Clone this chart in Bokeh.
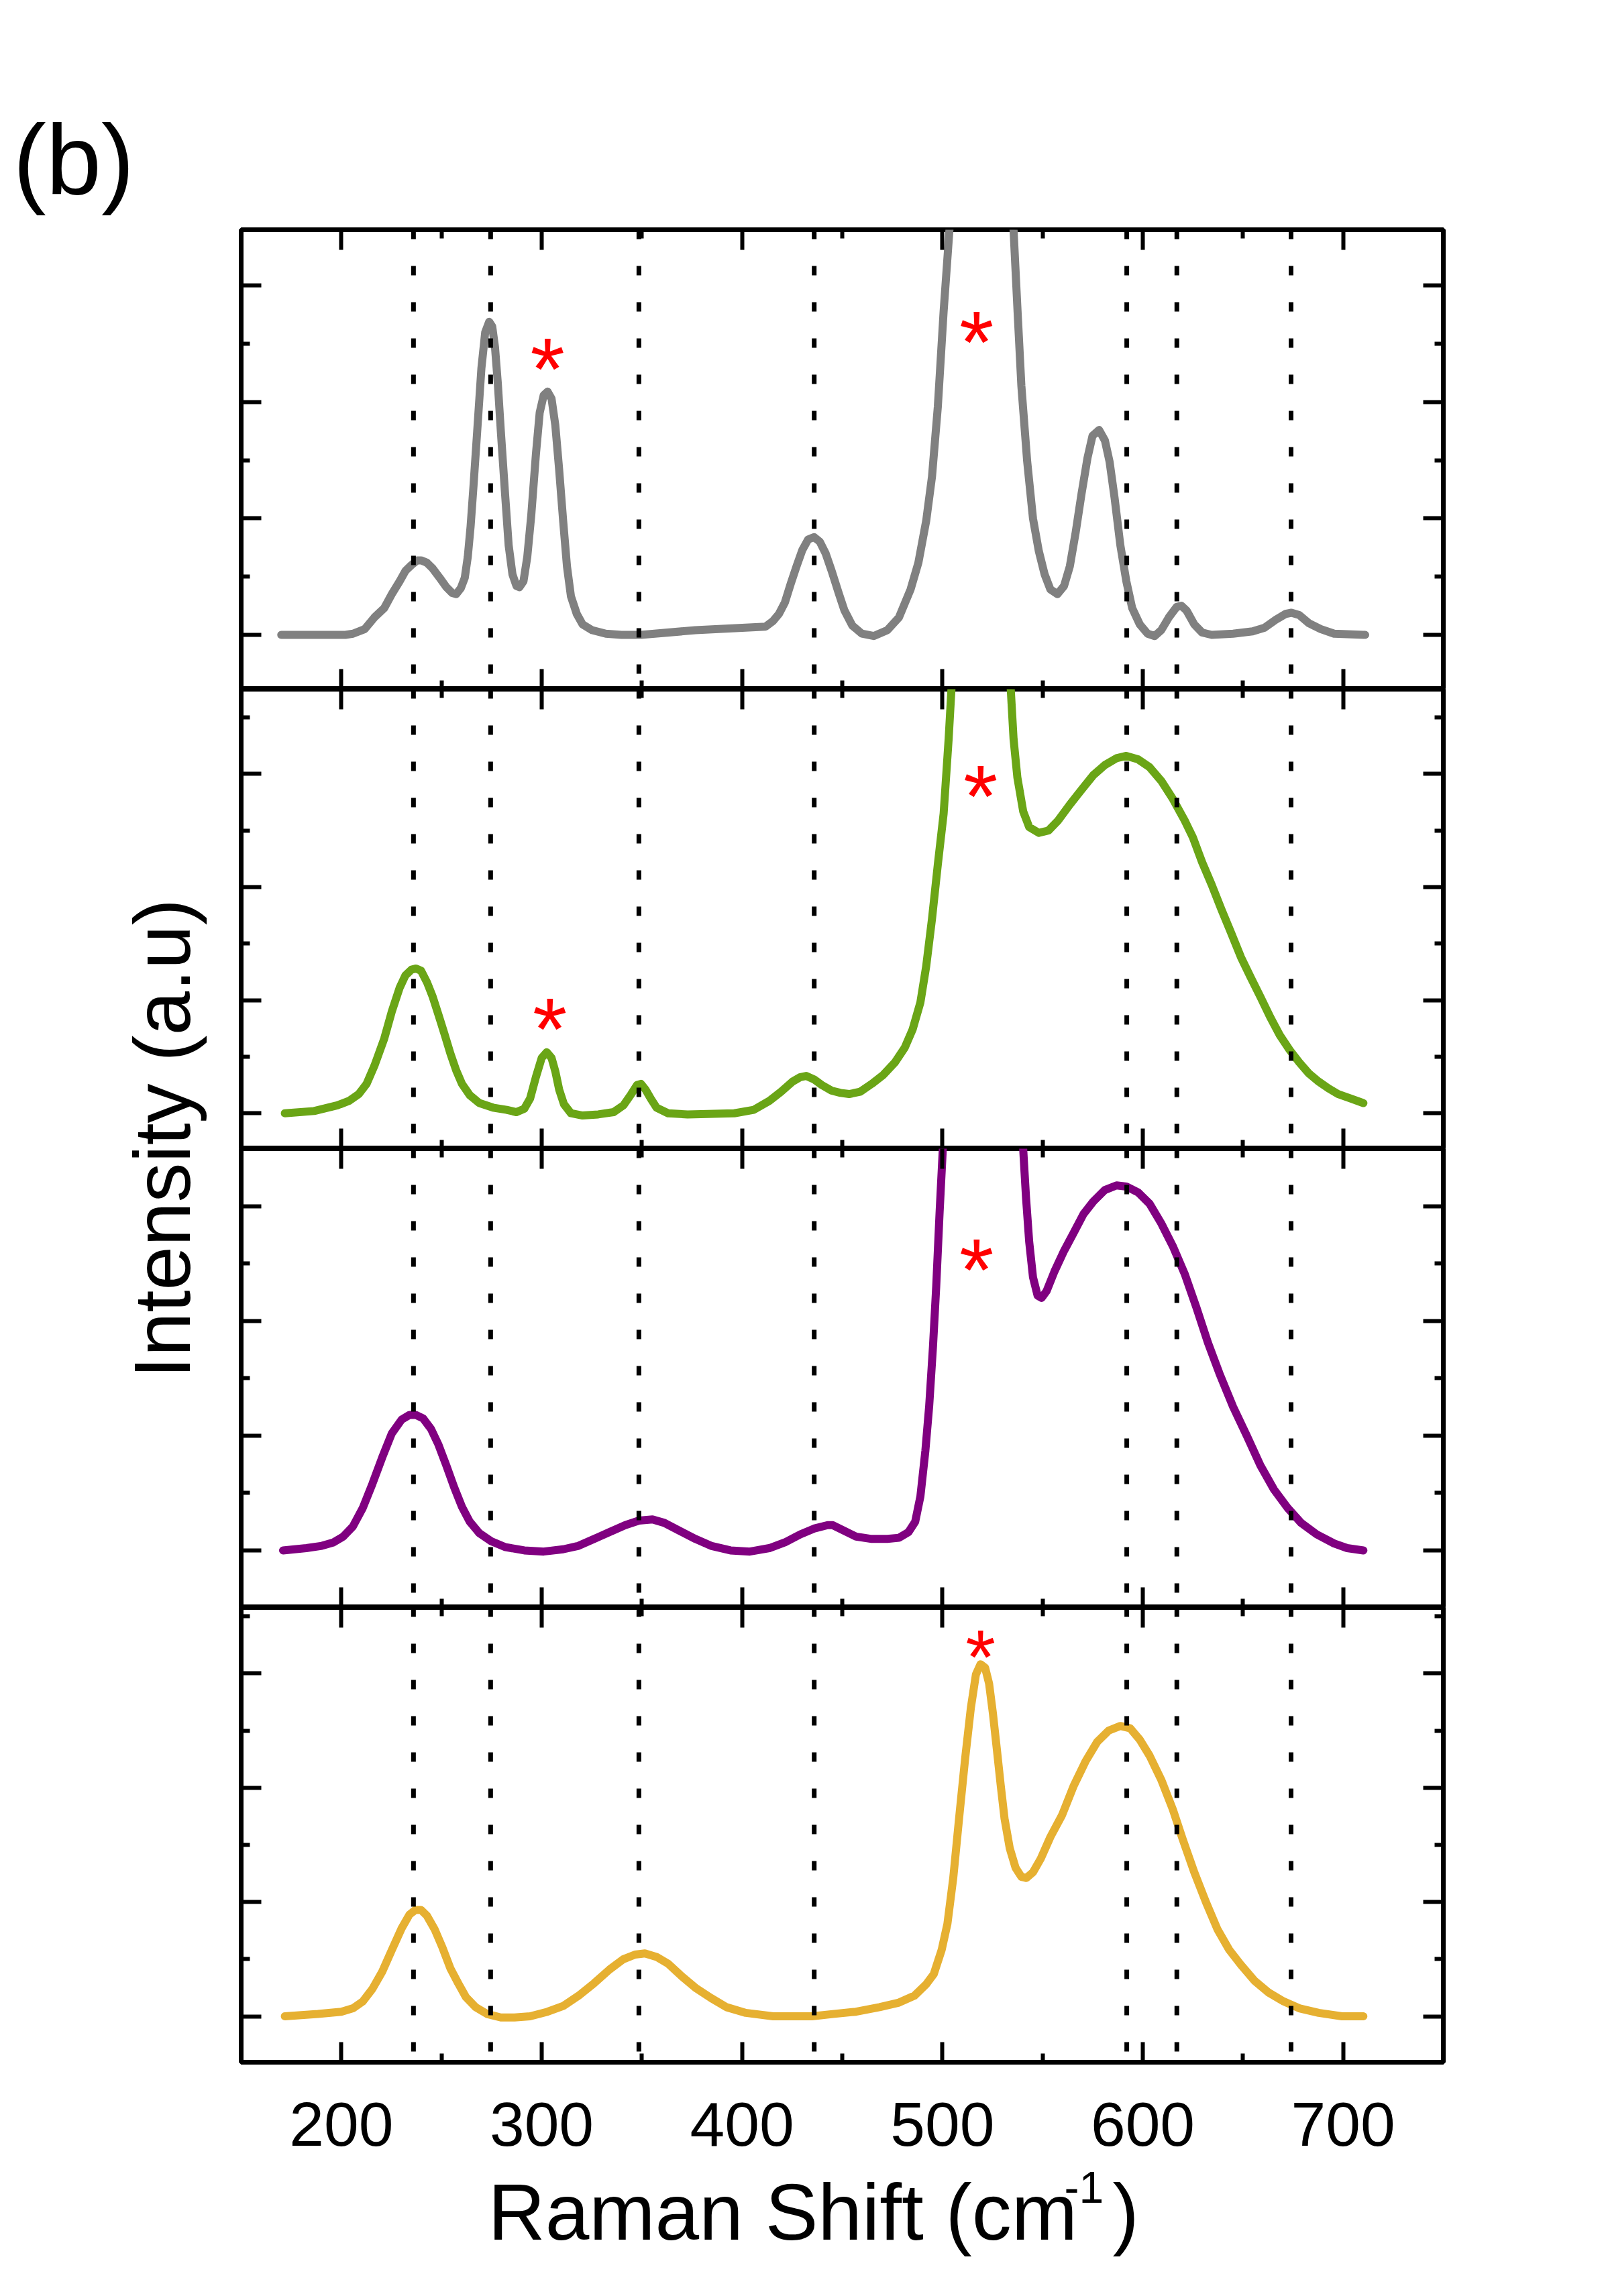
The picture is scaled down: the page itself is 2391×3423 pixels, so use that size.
import math
from bokeh.plotting import figure
from bokeh.models import Range1d, LinearAxis, FixedTicker, Span, CustomLabelingPolicy
from bokeh.layouts import row, column
from bokeh.embed import file_html
from bokeh.resources import INLINE
from bokeh.core.properties import value

FONT = "Liberation Sans"

# ---------------- data ----------------
x_major = [200, 300, 400, 500, 600, 700]
x_minor = [250, 350, 450, 550, 650]
x_labels = ["200", "300", "400", "500", "600", "700"]
y_major = [0, 1, 2, 3]
y_minor = [-0.5, 0.5, 1.5, 2.5, 3.5]

ref_lines = [236, 274.5, 348.5, 436, 592, 617, 674]

# (Raman shift, intensity a.u.) pairs per spectrum
gray_pts = [
    (170, 0), (190, 0), (202, 0), (205.8, 0.01), (211.7, 0.05), (216.5, 0.15), (221.4, 0.23),
    (225.2, 0.35), (229.1, 0.46), (232, 0.55), (235, 0.60), (237.9, 0.64), (239.8, 0.64),
    (242.7, 0.62), (245.6, 0.57), (249.5, 0.48), (252.4, 0.41), (255.3, 0.36), (257.3, 0.35),
    (259.6, 0.40), (261.6, 0.49), (263.1, 0.67), (264.5, 0.93), (266, 1.29), (268, 1.80),
    (269.9, 2.29), (271.8, 2.60), (273.8, 2.69), (275.3, 2.65), (276.7, 2.47), (278.1, 2.16),
    (279.6, 1.75), (281.6, 1.24), (283.5, 0.77), (285.4, 0.52), (287.4, 0.42), (288.9, 0.41),
    (290.9, 0.46), (292.8, 0.67), (294.8, 1.03), (297.1, 1.55), (299, 1.91), (301, 2.06),
    (302.9, 2.09), (304.9, 2.03), (306.8, 1.80), (308.7, 1.42), (310.7, 0.98), (312.6, 0.59),
    (314.6, 0.33), (317.5, 0.18), (320.4, 0.09), (325.2, 0.04), (332, 0.01), (339.8, 0),
    (349.5, 0), (376.7, 0.04), (411.7, 0.07), (415.5, 0.12), (418.4, 0.18), (421.4, 0.28),
    (424.3, 0.44), (427.2, 0.59), (430.1, 0.73), (433, 0.82), (435.9, 0.84), (438.8, 0.80),
    (441.7, 0.70), (444.7, 0.55), (448.2, 0.36), (451.1, 0.21), (455, 0.08), (459.8, 0.01),
    (465.7, -0.01), (472.5, 0.04), (478.3, 0.15), (484.1, 0.39), (488, 0.62), (491.9, 0.98),
    (494.8, 1.36), (497.7, 1.96), (500.6, 2.78), (503.5, 3.48), (508, 6), (514, 10), (520, 12),
    (527, 10), (532, 6), (535.5, 3.48), (537.5, 2.78), (539.4, 2.14), (542.3, 1.49),
    (545.2, 1.00), (548.1, 0.72), (551, 0.52), (553.9, 0.39), (557.4, 0.35), (560.7, 0.42),
    (563.6, 0.59), (566.5, 0.88), (569.4, 1.21), (572.4, 1.52), (574.9, 1.71), (578.2, 1.76),
    (581.1, 1.67), (583.4, 1.49), (585.9, 1.18), (588.8, 0.77), (591.8, 0.46), (594.7, 0.23),
    (598.5, 0.09), (602.4, 0.01), (605.9, -0.01), (609.2, 0.04), (613, 0.15), (616.9, 0.24),
    (619.3, 0.25), (621.8, 0.21), (625.7, 0.09), (629.6, 0.02), (634.4, 0), (645.1, 0.01),
    (654.8, 0.03), (660.6, 0.06), (666.4, 0.13), (671.3, 0.18), (674.2, 0.19), (678.1, 0.17),
    (682.9, 0.10), (688.8, 0.05), (695.5, 0.01), (711, 0),
]

green_pts = [
    (171.8, 0), (186.4, 0.02), (198, 0.07), (203.9, 0.11), (208.7, 0.17), (212.6, 0.26),
    (216.5, 0.42), (221.4, 0.66), (225.2, 0.90), (229.1, 1.11), (232, 1.22), (235, 1.27),
    (237.3, 1.28), (239.8, 1.26), (242.7, 1.16), (245.6, 1.03), (248.5, 0.87), (251.5, 0.70),
    (254.4, 0.53), (257.3, 0.38), (260.2, 0.26), (264.1, 0.16), (268.9, 0.09), (275.7, 0.05),
    (282.5, 0.03), (287.4, 0.01), (291.3, 0.04), (294.2, 0.13), (297.1, 0.32), (300, 0.49),
    (302.5, 0.54), (304.9, 0.49), (306.8, 0.37), (308.7, 0.21), (311.1, 0.08), (314.6, 0),
    (320.4, -0.02), (328.2, -0.01), (335.9, 0.01), (340.8, 0.07), (344.7, 0.17), (347.6, 0.25),
    (349.5, 0.26), (351.8, 0.21), (354.4, 0.13), (357.3, 0.05), (363.1, 0), (372.8, -0.01),
    (396.1, 0), (405.8, 0.03), (413.6, 0.11), (419.4, 0.19), (425.2, 0.28), (429.1, 0.32),
    (432, 0.33), (435.9, 0.30), (439.8, 0.25), (444.7, 0.20), (449.2, 0.18), (453.4, 0.17),
    (458.9, 0.19), (464.7, 0.26), (470.5, 0.34), (476.3, 0.45), (481.2, 0.58), (485.1, 0.74),
    (489, 0.98), (491.9, 1.30), (494.8, 1.72), (497.7, 2.20), (500.6, 2.65), (503.1, 3.31),
    (504.5, 3.75), (510, 6), (515, 9), (520, 11), (525, 9), (530, 6), (534.1, 3.75),
    (535.5, 3.31), (537.4, 2.97), (540.3, 2.67), (543.3, 2.53), (548.1, 2.48), (552.9, 2.50),
    (557.8, 2.59), (563.6, 2.73), (569.4, 2.86), (575.3, 2.99), (581.1, 3.08), (586.9, 3.14),
    (591.8, 3.16), (597.6, 3.13), (603.4, 3.06), (609.2, 2.94), (615, 2.78), (620.9, 2.59),
    (625, 2.44), (629.6, 2.22), (634.4, 2.02), (639.3, 1.80), (644.2, 1.59), (649, 1.38),
    (653.9, 1.20), (658.7, 1.03), (663.6, 0.85), (668.4, 0.69), (673.3, 0.56), (678.1, 0.45),
    (683, 0.35), (687.8, 0.28), (692.7, 0.22), (697.5, 0.17), (703.9, 0.13), (710.1, 0.09),
]

purple_pts = [
    (170.9, 0), (182.5, 0.02), (190.3, 0.04), (196.1, 0.07), (200.9, 0.12), (205.8, 0.21),
    (210.7, 0.37), (215.5, 0.58), (220.4, 0.81), (225.2, 1.02), (230.1, 1.14), (234, 1.18),
    (237.3, 1.18), (240.8, 1.15), (244.7, 1.06), (248.5, 0.92), (252.4, 0.74), (256.3, 0.55),
    (260.2, 0.38), (264.1, 0.25), (268.9, 0.15), (274.8, 0.08), (281.6, 0.03), (291.3, 0),
    (301, -0.01), (310.7, 0.01), (318.4, 0.04), (326.2, 0.10), (333.9, 0.16), (341.7, 0.22),
    (348.5, 0.26), (355.3, 0.27), (361.2, 0.24), (368.9, 0.17), (376.7, 0.10), (384.5, 0.04),
    (394.2, 0), (403.9, -0.01), (413.6, 0.02), (421.4, 0.07), (429.1, 0.14), (435.9, 0.19),
    (442.7, 0.22), (445.3, 0.22), (451.1, 0.17), (456.9, 0.12), (464.7, 0.10), (472.5, 0.10),
    (478.3, 0.11), (483.1, 0.16), (486.4, 0.25), (489, 0.47), (491.5, 0.87), (493.4, 1.26),
    (495.3, 1.78), (496.9, 2.30), (498.6, 2.95), (500.2, 3.50), (505, 6), (512, 10), (520, 13),
    (528, 10), (535, 6), (540.3, 3.50), (541.7, 3.08), (543.3, 2.69), (545.2, 2.38),
    (547.5, 2.22), (549.5, 2.20), (552, 2.26), (555.9, 2.43), (560.7, 2.61), (565.6, 2.77),
    (570.4, 2.93), (575.3, 3.04), (581.1, 3.14), (586.9, 3.18), (591.8, 3.17), (597.6, 3.12),
    (603.4, 3.02), (609.2, 2.85), (615, 2.65), (620.9, 2.41), (626.7, 2.12), (632.5, 1.81),
    (638.3, 1.54), (645.1, 1.25), (651.9, 1.00), (658.7, 0.74), (665.5, 0.53), (672.3, 0.37),
    (679, 0.24), (686.8, 0.14), (695.5, 0.06), (702, 0.02), (710.1, 0),
]

yellow_pts = [
    (171.8, 0), (188.3, 0.02), (200, 0.04), (205.8, 0.07), (210.7, 0.13), (215.5, 0.24),
    (220.4, 0.39), (225.2, 0.58), (230.1, 0.77), (234, 0.89), (236.9, 0.93), (239.8, 0.93),
    (242.7, 0.88), (246.6, 0.76), (250.5, 0.60), (254.4, 0.42), (258.3, 0.29), (262.1, 0.17),
    (267, 0.08), (272.8, 0.02), (279.6, -0.01), (286.4, -0.01), (294.2, 0), (302.9, 0.04),
    (310.7, 0.09), (318.4, 0.18), (326.2, 0.29), (333.9, 0.41), (340.8, 0.50), (346.6, 0.54),
    (351.5, 0.55), (357.3, 0.52), (363.1, 0.46), (369.9, 0.35), (376.7, 0.25), (384.5, 0.16),
    (392.2, 0.08), (401.9, 0.03), (415.5, 0), (434.9, 0), (445.3, 0.02), (456.9, 0.04),
    (468.6, 0.08), (478.3, 0.12), (486, 0.18), (491.9, 0.28), (495.7, 0.37), (499.6, 0.58),
    (502.5, 0.81), (505.4, 1.21), (508.3, 1.73), (511.3, 2.25), (514.2, 2.70), (516.7, 2.99),
    (519, 3.08), (521.3, 3.05), (523.3, 2.91), (525.2, 2.65), (527.2, 2.33), (529.1, 2.02),
    (531, 1.73), (533.6, 1.47), (536.5, 1.30), (539.4, 1.22), (541.9, 1.21), (545.2, 1.26),
    (549.1, 1.38), (553.9, 1.57), (559.7, 1.76), (565.6, 2.02), (571.4, 2.23), (577.2, 2.40),
    (583, 2.50), (588.8, 2.54), (593.7, 2.52), (598.5, 2.42), (603.4, 2.28), (609.2, 2.07),
    (615, 1.81), (619.9, 1.55), (625.7, 1.26), (631.5, 1.00), (637.3, 0.76), (643.2, 0.58),
    (649, 0.45), (655.8, 0.31), (662.6, 0.21), (670.3, 0.13), (678.1, 0.07), (687.8, 0.03),
    (699.4, 0), (710.1, 0),
]

# asterisk marks (x, baseline y in panel units, font size px)
ast1 = [(302.9, 2.28, 132), (517.0, 2.51, 132)]
ast2 = [(304.1, 0.74, 132), (519.0, 2.80, 132)]
ast3 = [(517.0, 2.44, 132)]
ast4 = [(519.0, 3.146, 115)]

B4 = 4  # bottom border of last panel (just enough for its frame line)
panels = [
    dict(pts=gray_pts, color="#808080", yr=(-0.467, 3.481), fh=685, top=342, bottom=0, ast=ast1),
    dict(pts=green_pts, color="#6AA516", yr=(-0.313, 3.750), fh=685, top=0, bottom=0, ast=ast2),
    dict(pts=purple_pts, color="#800080", yr=(-0.497, 3.500), fh=684, top=0, bottom=0, ast=ast3),
    dict(pts=yellow_pts, color="#E6B031", yr=(-0.402, 3.577), fh=678, top=0, bottom=B4, ast=ast4),
]

PAGE_W, PAGE_H = 2391, 3423
LW = 349
LEFT_B, FRAME_W = 10, 1792
RIGHT_B = PAGE_W - LW - LEFT_B - FRAME_W
PW = LEFT_B + FRAME_W + RIGHT_B

no_labels = CustomLabelingPolicy(
    code="for (let i = 0; i < indices.size; i++) { indices.set(i, false) } return indices")


def mk_axis(ticks, minor):
    ax = LinearAxis(ticker=FixedTicker(ticks=ticks, minor_ticks=minor),
                    axis_line_color=None,
                    major_tick_in=30, major_tick_out=0,
                    minor_tick_in=13, minor_tick_out=0,
                    major_tick_line_width=6, minor_tick_line_width=6,
                    major_tick_line_color="black", minor_tick_line_color="black",
                    major_label_text_font_size="0px", major_label_standoff=0,
                    major_label_policy=no_labels)
    return ax


figs = []
for i, pd_ in enumerate(panels):
    h = pd_["top"] + pd_["fh"] + pd_["bottom"]
    p = figure(width=PW, height=h,
               x_range=Range1d(150, 750), y_range=Range1d(*pd_["yr"]),
               x_axis_location=None, y_axis_location=None,
               toolbar_location=None, output_backend="svg",
               min_border_left=LEFT_B, min_border_right=RIGHT_B,
               min_border_top=pd_["top"], min_border_bottom=pd_["bottom"])
    for g in p.grid:
        g.visible = False
    p.outline_line_color = "black"
    p.outline_line_width = 7
    p.background_fill_color = "white"
    p.border_fill_color = "white"

    p.add_layout(mk_axis(y_major, y_minor), "left")
    p.add_layout(mk_axis(y_major, y_minor), "right")
    p.add_layout(mk_axis(x_major, x_minor), "above")
    p.add_layout(mk_axis(x_major, x_minor), "below")

    xs = [a for a, b in pd_["pts"]]
    ys = [b for a, b in pd_["pts"]]
    p.line(xs, ys, line_color=pd_["color"], line_width=12,
           line_cap="round", line_join="round")

    for loc in ref_lines:
        p.add_layout(Span(location=loc, dimension="height", line_color="black",
                          line_width=7, line_dash="14 40"))

    for ax_, ay_, fs in pd_["ast"]:
        p.text(x=[ax_], y=[ay_], text=["*"],
               text_color="#FF0000", text_font=value(FONT), text_font_size=f"{fs}px",
               text_align="center", text_baseline="alphabetic")
    figs.append(p)

# bottom strip: x tick labels and x-axis title.  Its frame is aligned with the
# panels' frames, so it shares their x scale; y is in pixels from the page bottom.
TH = PAGE_H - (342 + 685 + 685 + 684 + 678 + B4)
xt = figure(width=PW, height=TH, x_range=Range1d(150, 750), y_range=Range1d(0, TH),
            x_axis_location=None, y_axis_location=None, toolbar_location=None,
            output_backend="svg", min_border_left=LEFT_B, min_border_right=RIGHT_B,
            min_border_top=0, min_border_bottom=0)
for g in xt.grid:
    g.visible = False
xt.outline_line_color = None
xt.background_fill_color = "white"
xt.border_fill_color = "white"
lab_axis = LinearAxis(fixed_location=TH,
                      ticker=FixedTicker(ticks=x_major, minor_ticks=[]),
                      axis_line_color=None,
                      major_tick_in=0, major_tick_out=0, minor_tick_in=0, minor_tick_out=0,
                      major_tick_line_color=None, minor_tick_line_color=None,
                      major_label_text_font=FONT, major_label_text_font_size="93px",
                      major_label_text_color="black", major_label_standoff=56,
                      major_label_overrides={t: l for t, l in zip(x_major, x_labels)})
xt.add_layout(lab_axis, "below")
xt.text(x=[273.2], y=[126], text=["Raman Shift (cm"], text_font=value(FONT),
        text_font_size="118px", text_color="black", text_align="left",
        text_baseline="alphabetic")
xt.text(x=[560.8], y=[163], text=["-1"], text_font=value(FONT),
        text_font_size="66px", text_color="black", text_align="left",
        text_baseline="alphabetic")
xt.text(x=[584.9], y=[126], text=[")"], text_font=value(FONT),
        text_font_size="118px", text_color="black", text_align="left",
        text_baseline="alphabetic")

# left strip: panel letter and y-axis title (pixel coordinates)
left = figure(width=LW, height=PAGE_H, x_range=Range1d(0, LW), y_range=Range1d(0, PAGE_H),
              x_axis_location=None, y_axis_location=None, toolbar_location=None,
              output_backend="svg", min_border_left=0, min_border_right=0,
              min_border_top=0, min_border_bottom=0)
for g in left.grid:
    g.visible = False
left.outline_line_color = None
left.text(x=[19], y=[3185], text=["(b)"], text_font=value(FONT), text_font_size="148px",
          text_color="black", text_align="left", text_baseline="alphabetic")
left.text(x=[241], y=[1726], text=["Intensity (a.u)"], text_font=value(FONT),
          text_font_size="118px", text_color="black", angle=math.pi / 2,
          text_align="center", text_baseline="alphabetic")

layout = row(left, column(*figs, xt))
open("out.html", "w").write(file_html(layout, INLINE))
